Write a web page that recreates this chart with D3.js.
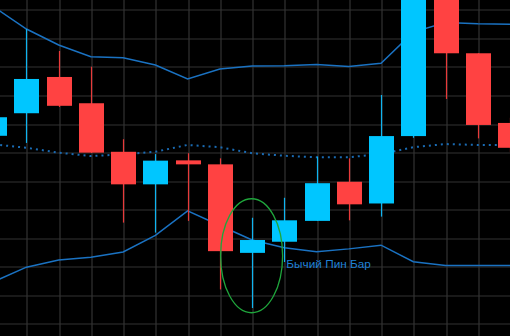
<!DOCTYPE html>
<html>
<head>
<meta charset="utf-8">
<script src="https://cdn.jsdelivr.net/npm/d3@7"></script>
<style>
  html, body { margin: 0; padding: 0; background: #000; overflow: hidden; }
  svg { display: block; }
</style>
</head>
<body>
<div id="chart"></div>
<script>
// candle data, index -1 is the partly hidden bar at the left edge
var bars  = [-1, 0, 1, 2, 3, 4, 5, 6, 7, 8, 9, 10, 11, 12, 13, 14, 15];
var open  = [75.7, 83.6, 96.3, 87.1, 70.1, 58.7, 67.1, 65.7, 34.7, 38.6, 45.9, 59.6, 52.0, 75.6, 125.0, 104.6, 80.2];
var high  = [83.0, 113.1, 105.4, 99.9, 74.5, 69.3, 69.6, 67.8, 47.0, 54.0, 68.4, 67.8, 90.0, 130.3, 128.0, 104.6, 82.0];
var low   = [74.2, 73.2, 85.8, 69.7, 45.3, 41.8, 45.9, 21.9, 15.4, 31.5, 45.9, 46.1, 47.4, 75.0, 88.6, 74.8, 70.0];
var close = [82.2, 95.6, 86.2, 69.8, 58.7, 67.0, 65.7, 35.3, 39.2, 46.1, 59.1, 51.7, 75.6, 126.8, 104.6, 79.5, 71.5];

// bollinger bands
var upperBand  = [120.7, 113.1, 107.5, 103.4, 103.0, 100.5, 95.6, 99.1, 100.1, 100.2, 100.7, 100.0, 101.1, 112.0, 115.4, 114.9, 114.8];
var middleBand = [72.7, 71.5, 69.8, 68.6, 69.2, 70.1, 72.5, 71.7, 69.6, 68.7, 68.2, 68.2, 69.3, 71.7, 72.8, 72.5, 72.5];
var lowerBand  = [24.7, 29.7, 32.2, 33.2, 35.0, 40.8, 49.4, 44.3, 39.2, 36.5, 35.1, 36.1, 37.4, 31.6, 30.3, 30.3, 30.3];

var gridPrices = [120, 110, 100, 90, 80, 70, 60, 50, 40, 30, 20, 10];
var gridBars = [0, 1, 2, 3, 4, 5, 6, 7, 8, 9, 10, 11, 12, 13, 14];

var pinBar = 7;
var pinLabel = "Бычий Пин Бар";

var width = 510, height = 336;

var x = d3.scaleLinear().domain([-0.82, 15]).range([0, 510]);
var y = d3.scaleLinear().domain([10, 120]).range([323.4, 9.3]);

var svg = d3.select("#chart").append("svg")
    .attr("width", width)
    .attr("height", height)
    .style("background", "#000");

// grid
var xGrid = d3.axisBottom(x).tickValues(gridBars).tickSize(height).tickFormat("");
var yGrid = d3.axisLeft(y).tickValues(gridPrices).tickSize(-width).tickFormat("");

svg.append("g")
    .attr("class", "grid")
    .call(xGrid)
    .call(function(g) { g.select(".domain").remove(); })
    .selectAll("line")
    .attr("stroke", "#333333")
    .attr("stroke-width", 1.2)
    .attr("transform", function(d) { return "translate(" + (Math.round(x(d)) + 0.5 - x(d)) + ",0)"; });

svg.append("g")
    .attr("class", "grid")
    .call(yGrid)
    .call(function(g) { g.select(".domain").remove(); })
    .selectAll("line")
    .attr("stroke", "#333333")
    .attr("stroke-width", 1.2)
    .attr("transform", function(d) { return "translate(0," + (Math.round(y(d)) + 0.5 - y(d)) + ")"; });

// bands
var band = d3.line()
    .x(function(d, i) { return x(bars[i]); })
    .y(function(d) { return y(d); });

svg.append("path")
    .attr("d", band(upperBand))
    .attr("fill", "none")
    .attr("stroke", "#1a72c2")
    .attr("stroke-width", 1.5);

svg.append("path")
    .attr("d", band(lowerBand))
    .attr("fill", "none")
    .attr("stroke", "#1a72c2")
    .attr("stroke-width", 1.5);

svg.append("path")
    .attr("d", band(middleBand))
    .attr("fill", "none")
    .attr("stroke", "#1a6bb3")
    .attr("stroke-width", 2)
    .attr("stroke-dasharray", "2,4");

// candles
var bodyWidth = 25;
var candles = svg.selectAll(".candle")
    .data(bars)
    .enter().append("g")
    .attr("class", "candle");

function colorOf(i) { return close[i] >= open[i] ? "#00c6ff" : "#ff4242"; }

candles.append("line")
    .attr("x1", function(d) { return Math.round(x(d)) + 0.5; })
    .attr("x2", function(d) { return Math.round(x(d)) + 0.5; })
    .attr("y1", function(d, i) { return y(high[i]); })
    .attr("y2", function(d, i) { return y(low[i]); })
    .attr("stroke", function(d, i) { return close[i] >= open[i] ? "#0fb4f0" : "#e83a3a"; })
    .attr("stroke-width", 1.2);

candles.append("rect")
    .attr("x", function(d) { return Math.round(x(d)) + 0.5 - bodyWidth / 2; })
    .attr("width", bodyWidth)
    .attr("y", function(d, i) { return y(Math.max(open[i], close[i])); })
    .attr("height", function(d, i) { return Math.max(1, Math.abs(y(open[i]) - y(close[i]))); })
    .attr("fill", function(d, i) { return colorOf(i); });

// pin bar annotation
svg.append("ellipse")
    .attr("cx", x(pinBar) - 0.5)
    .attr("cy", y(33.7))
    .attr("rx", 31)
    .attr("ry", 57)
    .attr("fill", "none")
    .attr("stroke", "#1fa63c")
    .attr("stroke-width", 1.3);

svg.append("text")
    .attr("x", x(pinBar + 1) + 2)
    .attr("y", y(29.5))
    .attr("fill", "#1f80d6")
    .style("font-family", "'Liberation Sans', Arial, sans-serif")
    .style("font-size", "11.8px")
    .text(pinLabel);
</script>
</body>
</html>
